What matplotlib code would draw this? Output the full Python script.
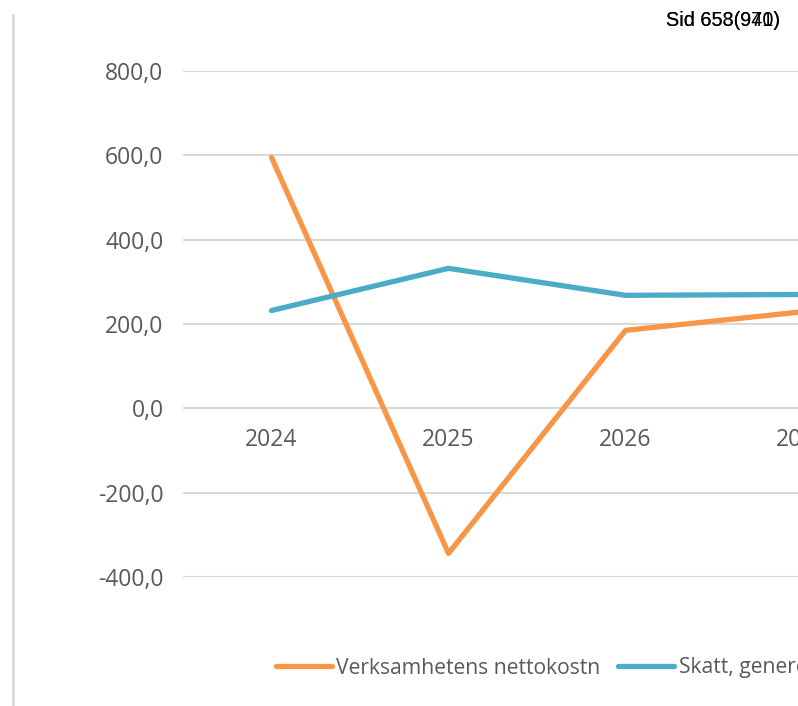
import matplotlib
matplotlib.use("Agg")
import matplotlib.pyplot as plt
from matplotlib.lines import Line2D

plt.rcParams['font.family'] = ['Open Sans', 'DejaVu Sans']

years = ['2024', '2025', '2026', '2027', '2028']
nettokostnad = [595.0, -344.0, 185.0, 229.0, 240.0]
skatt = [232.0, 332.0, 268.0, 270.0, 270.0]
y_ticks = [-400, -200, 0, 200, 400, 600, 800]

ORANGE = '#F79646'
BLUE = '#4BACC6'
GRID = '#D9D9D9'
TEXT = '#595959'

W, H = 798, 706
fig = plt.figure(figsize=(W / 100, H / 100), dpi=100)

# plot area runs past the right edge of the page
ax = fig.add_axes([183 / W, 1 - 577 / H, 885 / W, 506 / H])
x = range(len(years))
ax.plot(x, nettokostnad, color=ORANGE, lw=3.8, solid_capstyle='round', zorder=3)
ax.plot(x, skatt, color=BLUE, lw=3.8, solid_capstyle='round', zorder=3)

ax.set_xlim(-0.5, len(years) - 0.5)
ax.set_ylim(-400, 800)
ax.set_yticks(y_ticks)
ax.set_yticklabels([f"{v:.1f}".replace('.', ',') for v in y_ticks])
ax.yaxis.grid(True, color=GRID, lw=1.5)
ax.set_axisbelow(True)
for s in ax.spines.values():
    s.set_visible(False)
ax.spines['bottom'].set_position(('data', 0))
ax.set_xticks(list(x))
ax.set_xticklabels(years)
ax.tick_params(axis='x', length=0, pad=14, labelsize=16.5, labelcolor=TEXT)
ax.tick_params(axis='y', length=0, pad=14, labelsize=16.5, labelcolor=TEXT)

# legend below the plot
handles = [Line2D([], [], color=ORANGE, lw=3.8, solid_capstyle='round'),
           Line2D([], [], color=BLUE, lw=3.8, solid_capstyle='round')]
fig.legend(handles, ['Verksamhetens nettokostn', 'Skatt, generella statsbidrag'],
           loc='center left', bbox_to_anchor=(276 / W, 1 - 668 / H), ncol=2,
           frameon=False, fontsize=15.2, labelcolor=TEXT, handlelength=2.65,
           handletextpad=0.2, columnspacing=0.85, borderpad=0, borderaxespad=0)

# page border and page stamp
fig.add_artist(Line2D([13 / W, 13 / W], [0, 1 - 15 / H], color=GRID, lw=2))
for s in ['Sid 658(971)', 'Sid 653(940)']:
    fig.text(780 / W, 1 - 20 / H, s, ha='right', va='center', fontsize=14.3,
             family='Liberation Sans', color='black')

fig.savefig('out.png', dpi=100)
